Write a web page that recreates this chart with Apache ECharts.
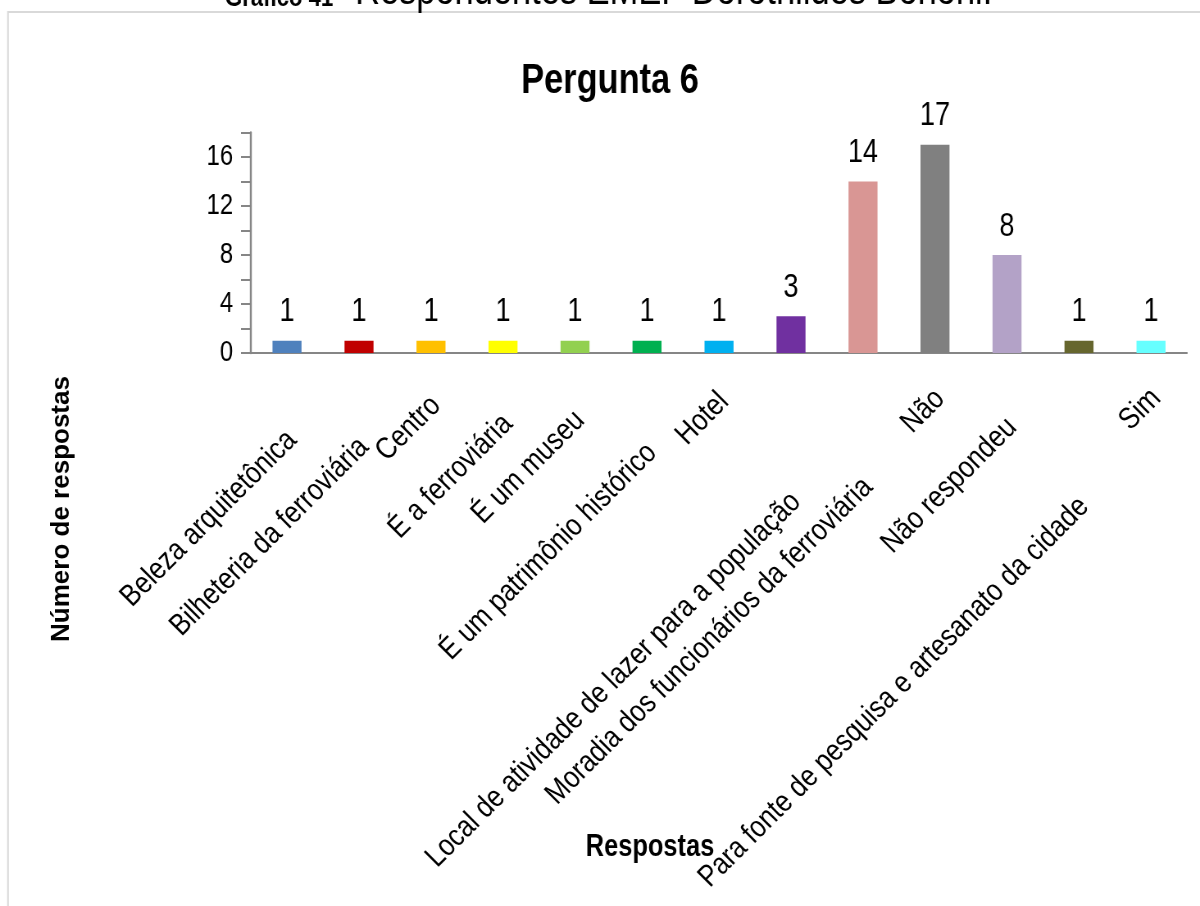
<!DOCTYPE html>
<html>
<head>
<meta charset="utf-8">
<script src="https://cdn.jsdelivr.net/npm/echarts@6/dist/echarts.min.js"></script>
<style>
  html, body { margin: 0; padding: 0; background: #ffffff; }
  #wrap { width: 1200px; height: 906px; overflow: hidden; position: relative; }
  /* the chart is laid out wider and drawn horizontally condensed */
  #chart { width: 1464px; height: 906px; transform: scaleX(0.819672); transform-origin: 0 0; }
</style>
</head>
<body>
<div id="wrap"><div id="chart"></div></div>
<script>
// Respostas à pergunta 6
const categories = [
  'Beleza arquitetônica',
  'Bilheteria da ferroviária',
  'Centro',
  'É a ferroviária',
  'É um museu',
  'É um patrimônio histórico',
  'Hotel',
  'Local de atividade de lazer para a população',
  'Moradia dos funcionários da ferroviária',
  'Não',
  'Não respondeu',
  'Para fonte de pesquisa e artesanato da cidade',
  'Sim'
];
const values = [1, 1, 1, 1, 1, 1, 1, 3, 14, 17, 8, 1, 1];
const barColors = [
  '#4F81BD', '#C00000', '#FFC000', '#FFFF00', '#92D050', '#00B050', '#00B0F0',
  '#7030A0', '#D99694', '#808080', '#B3A2C7', '#66662E', '#66FFFF'
];
const yLabelTicks = [0, 4, 8, 12, 16];

const chartTitle = 'Pergunta 6';
const yAxisTitle = 'Número de respostas';
const xAxisTitle = 'Respostas';
const captionBold = 'Gráfico 41';
const captionRest = '- Respondentes EMEF Dorothildes Bononi.';

// horizontal condensing factor applied to the whole drawing (see CSS)
const SX = 1200 / 1464;
const px = v => v / SX;   // horizontal page position -> chart coordinate

const FONT = "'Liberation Sans', Arial, sans-serif";
const catFontSize = 30.5;
const catNarrow = 0.85;
const measureCtx = document.createElement('canvas').getContext('2d');
function textWidth(str, font) {
  measureCtx.font = font;
  return measureCtx.measureText(str).width;
}

// Split a 2x2 linear map (x' = a x + b y, y' = c x + d y) into
// rotation * scale * rotation, expressed as zrender rotations.
function splitLinear(a, b, c, d) {
  const E = (a + d) / 2, F = (a - d) / 2, G = (c + b) / 2, H = (c - b) / 2;
  const Q = Math.hypot(E, H), R = Math.hypot(F, G);
  const a1 = Math.atan2(G, F), a2 = Math.atan2(H, E);
  const theta = (a2 - a1) / 2, phi = (a2 + a1) / 2;
  return { outerRot: -phi, sx: Q + R, sy: Q - R, innerRot: -theta };
}
// category labels: 45 degree slant, upright glyphs, slightly narrowed,
// pre-compensated for the horizontal condensing of the page
const c45 = Math.SQRT1_2;
const catTf = splitLinear(
  c45 * catNarrow / SX, c45 / SX,
  -c45 * catNarrow, c45
);

const chart = echarts.init(document.getElementById('chart'), null, { renderer: 'canvas' });

const option = {
  backgroundColor: '#ffffff',
  animation: false,
  grid: { left: px(251), right: px(13), top: 132.5, bottom: 553 },
  xAxis: {
    type: 'category',
    data: categories,
    axisLine: { show: true, lineStyle: { color: '#868686', width: 2 } },
    axisTick: { show: false },
    axisLabel: { show: false },
    splitLine: { show: false }
  },
  yAxis: {
    type: 'value',
    min: 0,
    max: 18,
    interval: 2,
    axisLine: { show: true, lineStyle: { color: '#868686', width: 2.4 } },
    axisTick: { show: true, inside: false, length: px(10), lineStyle: { color: '#868686', width: 2 } },
    axisLabel: {
      margin: px(18),
      color: '#000000',
      fontFamily: FONT,
      fontSize: 29,
      formatter: v => (yLabelTicks.indexOf(v) >= 0 ? String(v) : '')
    },
    splitLine: { show: false }
  },
  series: [
    {
      type: 'bar',
      barWidth: px(29),
      data: values.map((v, i) => ({ value: v, itemStyle: { color: barColors[i] } })),
      label: {
        show: true,
        position: 'top',
        distance: 12,
        color: '#000000',
        fontFamily: FONT,
        fontSize: 33
      }
    },
    {
      // category names, slanted and staggered below the axis
      type: 'custom',
      coordinateSystem: 'cartesian2d',
      silent: true,
      clip: false,
      z: 5,
      data: categories.map((c, i) => [i, 0]),
      encode: { x: 0, y: 1 },
      renderItem: function (params, api) {
        const pt = api.coord([api.value(0), 0]);
        const text = categories[params.dataIndex];
        const font = catFontSize + 'px ' + FONT;
        const w = textWidth(text, font) * catNarrow;
        return {
          type: 'group',
          x: pt[0] - px(6),
          y: pt[1] + 20 + 0.22 * w,
          rotation: catTf.outerRot,
          scaleX: catTf.sx,
          scaleY: catTf.sy,
          children: [{
            type: 'text',
            x: 0,
            y: 0,
            rotation: catTf.innerRot,
            style: {
              text: text,
              font: font,
              fill: '#000000',
              align: 'right',
              verticalAlign: 'top'
            }
          }]
        };
      }
    }
  ],
  graphic: [
    {
      type: 'rect',
      silent: true,
      shape: { x: px(8), y: 12, width: px(1250), height: 940 },
      style: { fill: 'none', stroke: '#d9d9d9', lineWidth: 2 }
    },
    {
      type: 'text',
      silent: true,
      x: px(225),
      y: -1,
      style: {
        text: captionBold,
        font: 'bold 27px ' + FONT,
        fill: '#000000',
        align: 'left',
        verticalAlign: 'middle'
      }
    },
    {
      type: 'text',
      silent: true,
      x: px(334),
      y: -8,
      style: {
        text: captionRest,
        font: '42px ' + FONT,
        fill: '#000000',
        align: 'left',
        verticalAlign: 'middle'
      }
    },
    {
      type: 'text',
      silent: true,
      x: px(610),
      y: 81,
      style: {
        text: chartTitle,
        font: 'bold 42px ' + FONT,
        fill: '#000000',
        align: 'center',
        verticalAlign: 'middle'
      }
    },
    {
      type: 'text',
      silent: true,
      x: px(62),
      y: 509,
      rotation: Math.PI / 2,
      scaleY: 1 / SX,
      style: {
        text: yAxisTitle,
        font: 'bold 26px ' + FONT,
        fill: '#000000',
        align: 'center',
        verticalAlign: 'middle'
      }
    },
    {
      type: 'text',
      silent: true,
      x: px(650),
      y: 847,
      style: {
        text: xAxisTitle,
        font: 'bold 31px ' + FONT,
        fill: '#000000',
        align: 'center',
        verticalAlign: 'middle'
      }
    }
  ]
};

chart.setOption(option);
</script>
</body>
</html>
